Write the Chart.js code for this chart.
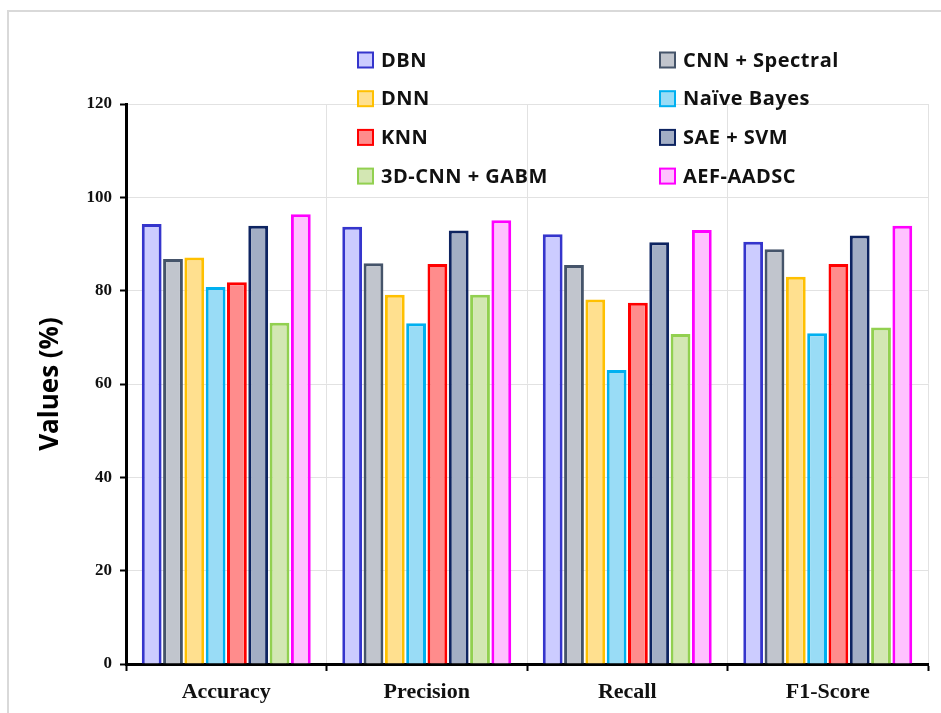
<!DOCTYPE html>
<html>
<head>
<meta charset="utf-8">
<script src="https://cdn.jsdelivr.net/npm/chart.js@4.4.1/dist/chart.umd.min.js"></script>
<style>
  html, body { margin: 0; padding: 0; background: #fff; }
  #wrap { width: 941px; height: 713px; position: relative; }
  canvas { display: block; }
</style>
</head>
<body>
<div id="wrap"><canvas id="chart" width="941" height="713"></canvas></div>
<script>
// Metric groups along the x axis
const categories = ['Accuracy', 'Precision', 'Recall', 'F1-Score'];

// Compared methods (legend order = bar order inside each group)
const methods = ['DBN', 'CNN + Spectral', 'DNN', 'Naïve Bayes', 'KNN', 'SAE + SVM', '3D-CNN + GABM', 'AEF-AADSC'];

// Scores in percent: Accuracy, Precision, Recall, F1-Score
const dbn        = [94.3, 93.7, 92.1, 90.5];
const cnnSpec    = [86.8, 85.9, 85.5, 88.9];
const dnn        = [87.1, 79.1, 78.1, 83.0];
const naiveBayes = [80.8, 73.0, 63.0, 70.9];
const knn        = [81.8, 85.7, 77.4, 85.7];
const saeSvm     = [93.9, 92.9, 90.4, 91.8];
const cnn3dGabm  = [73.1, 79.1, 70.7, 72.1];
const aefAadsc   = [96.4, 95.1, 93.0, 93.9];

// Y axis range and tick spacing
const yMin = 0;
const yMax = 120;
const yStep = 20;

const seriesValues = [dbn, cnnSpec, dnn, naiveBayes, knn, saeSvm, cnn3dGabm, aefAadsc];
const fills   = ['#ccccff', '#c1c5cd', '#ffe08f', '#99dcf6', '#ff8c8c', '#a3aec5', '#d3e7b3', '#ffc2ff'];
const borders = ['#3535cc', '#45546a', '#ffc000', '#00b0f0', '#ff0000', '#0e2461', '#92d050', '#ff00ff'];

const datasets = methods.map((name, i) => ({
  label: name,
  data: seriesValues[i],
  backgroundColor: fills[i],
  borderColor: borders[i],
  borderWidth: 3,
  categoryPercentage: 0.85,
  barPercentage: 0.93
}));

// White page with a thin grey frame
const framePlugin = {
  id: 'frame',
  beforeDraw(chart) {
    const ctx = chart.ctx;
    ctx.save();
    ctx.fillStyle = '#ffffff';
    ctx.fillRect(0, 0, chart.width, chart.height);
    ctx.strokeStyle = '#d9d9d9';
    ctx.lineWidth = 2;
    ctx.strokeRect(8, 11, chart.width + 10, chart.height + 10);
    ctx.restore();
  }
};

// Two-column legend laid over the top of the plot
const gridLegend = {
  id: 'gridLegend',
  afterDraw(chart) {
    const ctx = chart.ctx;
    const colX = [358, 660];
    const rowY0 = 60, rowGap = 38.7, box = 15;
    ctx.save();
    chart.data.datasets.forEach((ds, i) => {
      const x = colX[i % 2];
      const y = rowY0 + Math.floor(i / 2) * rowGap;
      ctx.fillStyle = ds.backgroundColor;
      ctx.fillRect(x, y - box / 2, box, box);
      ctx.strokeStyle = ds.borderColor;
      ctx.lineWidth = 2;
      ctx.strokeRect(x, y - box / 2, box, box);
      ctx.fillStyle = '#111';
      ctx.font = 'bold 20px "Open Sans", Lato, sans-serif';
      ctx.letterSpacing = '0.5px';
      ctx.textBaseline = 'middle';
      ctx.textAlign = 'left';
      ctx.fillText(ds.label, x + 23, y + 1);
    });
    ctx.restore();
  }
};

new Chart(document.getElementById('chart'), {
  type: 'bar',
  data: { labels: categories, datasets },
  plugins: [framePlugin, gridLegend],
  options: {
    responsive: false,
    animation: false,
    devicePixelRatio: 1,
    layout: { padding: { left: 0, right: 13, top: 104, bottom: 0 } },
    plugins: {
      legend: { display: false },
      tooltip: { enabled: false }
    },
    scales: {
      x: {
        type: 'category',
        offset: true,
        grid: {
          offset: true,
          color: '#e2e2e2',
          lineWidth: 1,
          tickColor: '#000',
          tickLength: 7,
          tickWidth: 2
        },
        border: { color: '#000', width: 3 },
        ticks: {
          color: '#111',
          padding: 8,
          font: { family: '"Liberation Serif", "Times New Roman", serif', weight: 'bold', size: 22 }
        },
        afterFit(scale) { scale.height = 49; }
      },
      y: {
        min: yMin,
        max: yMax,
        ticks: {
          stepSize: yStep,
          color: '#111',
          padding: 8,
          font: { family: '"Liberation Serif", "Times New Roman", serif', weight: 'bold', size: 17 }
        },
        grid: {
          color: '#e2e2e2',
          lineWidth: 1,
          tickColor: '#000',
          tickLength: 6,
          tickWidth: 2
        },
        border: { color: '#000', width: 3 },
        title: {
          display: true,
          text: 'Values (%)',
          color: '#000',
          font: { family: '"Open Sans", Lato, sans-serif', weight: 'bold', size: 26 },
          padding: { top: 35, bottom: 0 }
        },
        afterFit(scale) { scale.width = 126; }
      }
    }
  }
});
</script>
</body>
</html>
